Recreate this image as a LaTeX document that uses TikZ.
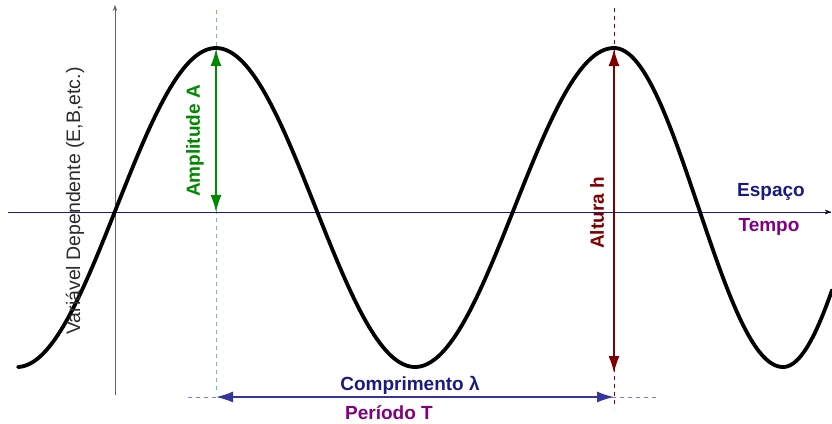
\documentclass[tikz,border=0pt]{standalone}
\usepackage{fontspec}
\setmainfont{Liberation Sans}
\usetikzlibrary{arrows.meta}
\definecolor{navyax}{HTML}{1A1A96}
\definecolor{navytxt}{HTML}{1A1A80}
\definecolor{ampgreen}{HTML}{008800}
\definecolor{litegreen}{HTML}{80C080}
\definecolor{darkred}{HTML}{800000}
\definecolor{purp}{HTML}{800080}
\definecolor{arrblue}{HTML}{3535A0}
\definecolor{liteblue}{HTML}{7C7CDC}
\definecolor{axgray}{HTML}{606060}
\definecolor{txtgray}{HTML}{2A2A2A}
\tikzset{
  lbl/.style={inner sep=0pt, font=\fontsize{19}{22}\selectfont\bfseries},
  wave/.style={line width=3.8pt, line join=round, line cap=round, black},
  dimarrow/.style={{Latex[length=17pt,width=11pt]}-{Latex[length=17pt,width=11pt]}, line width=1.5pt},
  guide/.style={line width=0.8pt, dash pattern=on 4pt off 4pt},
  axtip/.style={-{Stealth[length=6pt,width=4.5pt]}}
}
\begin{document}
\begin{tikzpicture}[x=1pt,y=-1pt]
\useasboundingbox (0,0) rectangle (832,423);
% coordinates
\coordinate (hx0) at (8,212);
\coordinate (hx1) at (831,212);
\coordinate (hx2) at (826,212);
\coordinate (vy0) at (115,395);
\coordinate (vy1) at (115,5);
\coordinate (g0) at (216,10);
\coordinate (g1) at (216,392);
\coordinate (r0) at (614,8);
\coordinate (r1) at (614,408);
\coordinate (b0) at (188,397);
\coordinate (b1) at (660,397);
\coordinate (ampTop) at (216,49);
\coordinate (ampBot) at (216,212);
\coordinate (hTop) at (614,49);
\coordinate (hBot) at (614,373);
\coordinate (lamL) at (216,397);
\coordinate (lamR) at (614,397);
% guides
\draw[guide, litegreen] (g0) -- (g1);
\draw[guide, darkred] (r0) -- (r1);
\draw[guide, liteblue] (b0) -- (b1);
% axes
\draw[axgray, line width=0.9pt, axtip] (vy0) -- (vy1);
\draw[navyax, line width=1pt] (hx0) -- (hx1);
\draw[black, line width=0.01pt, axtip] (hx2) -- (hx1);
% wave
\draw[wave] plot[domain=18:614, samples=240] (\x, {207.5-159.5*cos(((\x-216)/199)*180)})
  -- plot[domain=614:783, samples=80] (\x, {207.5-159.5*cos(((\x-614)/169)*180)})
  -- plot[domain=783:832, samples=30] (\x, {207.5+159.5*cos(((\x-783)/150)*180)});
% dimension arrows
\draw[dimarrow, ampgreen] (ampBot) -- (ampTop);
\draw[dimarrow, darkred] (hTop) -- (hBot);
\draw[dimarrow, arrblue] (lamL) -- (lamR);
% labels
\node[inner sep=0pt, font=\fontsize{19.5}{22}\selectfont, text=txtgray, rotate=90] (var) at (75,201) {Variável Dependente (E,B,etc.)};
\node[lbl, text=ampgreen, rotate=90] (amp) at (195,141) {Amplitude A};
\node[lbl, text=darkred, rotate=90] (alt) at (597,213) {Altura h};
\node[lbl, text=navytxt] (esp) at (771,192) {Espaço};
\node[lbl, text=purp] (tem) at (769,227) {Tempo};
\node[lbl, text=navytxt] (comp) at (410,385) {Comprimento λ};
\node[lbl, text=purp] (per) at (389,413) {Período T};
\end{tikzpicture}
\end{document}
